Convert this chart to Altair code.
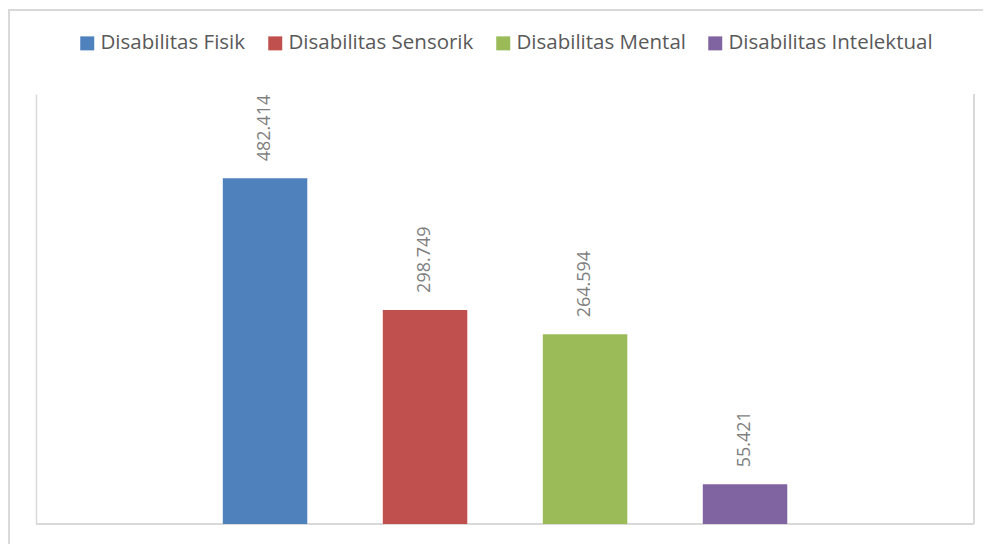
import altair as alt
import pandas as pd

categories = ["Disabilitas Fisik", "Disabilitas Sensorik", "Disabilitas Mental", "Disabilitas Intelektual"]
values = [482414, 298749, 264594, 55421]
colors = ["#4f81bd", "#c0504d", "#9bbb59", "#8064a2"]

df = pd.DataFrame({
    "kategori": categories,
    "jumlah": values,
    "label": [f"{v:,}".replace(",", ".") for v in values],
})

W, H = 938, 430
FRAME = "#d9d9d9"
STEP = 160
PAD_IN = 0.472
START = 186.8

xscale = alt.Scale(domain=categories, paddingInner=PAD_IN, paddingOuter=0,
                   range=[START, START + STEP * (len(categories) - PAD_IN)])
x = alt.X("kategori:N", sort=categories, scale=xscale, axis=None)
y = alt.Y("jumlah:Q", scale=alt.Scale(domain=[0, 600000], nice=False),
          axis=alt.Axis(labels=False, ticks=False, grid=False, title=None, domainColor=FRAME, domainWidth=1.5))

bars = alt.Chart(df).mark_bar().encode(
    x=x, y=y,
    color=alt.Color("kategori:N", sort=categories, title=None,
                    scale=alt.Scale(domain=categories, range=colors),
                    legend=alt.Legend(orient="none", legendX=41, legendY=-61, direction="horizontal",
                                      symbolType="square", symbolSize=196, symbolStrokeWidth=0,
                                      labelFont="Open Sans", labelFontSize=20.5, labelColor="#595959",
                                      labelLimit=400, columnPadding=19, labelOffset=3,
                                      padding=0, offset=0)),
)

labels = alt.Chart(df).mark_text(angle=270, align="left", baseline="middle", dx=17,
                                 font="Open Sans", fontSize=18, color="#7f7f7f").encode(
    x=alt.X("kategori:N", sort=categories, scale=xscale, axis=None),
    y=alt.Y("jumlah:Q"), text="label:N")

right_line = alt.Chart(df).mark_rule(color=FRAME, strokeWidth=1.5).encode(
    x=alt.value(W), y=alt.value(0), y2=alt.value(H))
bottom_line = alt.Chart(df).mark_rule(color=FRAME, strokeWidth=1.5).encode(
    x=alt.value(0), x2=alt.value(W), y=alt.value(H))
outer_left = alt.Chart(df).mark_rule(color=FRAME, strokeWidth=2).encode(
    x=alt.value(-27), y=alt.value(-85), y2=alt.value(H + 21))
outer_top = alt.Chart(df).mark_rule(color=FRAME, strokeWidth=2).encode(
    x=alt.value(-28), x2=alt.value(W + 10), y=alt.value(-84))

chart = alt.layer(outer_left, outer_top, right_line, bottom_line, bars, labels).properties(
    width=W, height=H,
    background="white",
    autosize=alt.AutoSizeParams(type="none"),
    padding={"left": 28, "top": 86, "right": 9, "bottom": 20},
).configure_view(stroke=None)

chart.save("out.html", embed_options={"renderer": "svg", "actions": False})
